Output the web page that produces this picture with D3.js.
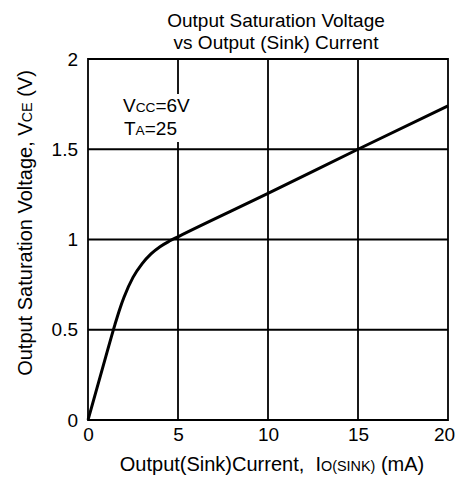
<!DOCTYPE html>
<html>
<head>
<meta charset="utf-8">
<script src="https://cdn.jsdelivr.net/npm/d3@7/dist/d3.min.js"></script>
<style>
  html, body { margin: 0; padding: 0; background: #fff; }
  text { font-family: "Liberation Sans", Arial, sans-serif; fill: #000; }
</style>
</head>
<body>
<svg id="chart" width="457" height="481"></svg>
<script>
// Output saturation voltage vs sink current
const sinkCurrent = [0, 1, 1.5, 1.8, 2, 2.5, 3, 3.5, 4, 4.5, 5, 10, 15, 20];                     // mA
const satVoltage  = [0, 0.355, 0.53, 0.625, 0.68, 0.79, 0.865, 0.92, 0.96, 0.99, 1.015, 1.255, 1.5, 1.74]; // V
const xTicks = [0, 5, 10, 15, 20];
const yTicks = [0, 0.5, 1, 1.5, 2];
const titleLines = ["Output Saturation Voltage", "vs Output (Sink) Current"];

const svg = d3.select("#chart");
const fs = 19;
const fsAxis = 20;
const sub = 0.72;

const x = d3.scaleLinear().domain([0, 20]).range([88, 448]);
const y = d3.scaleLinear().domain([0, 2]).range([420, 59]);

// grid lines and frame
const grid = svg.append("g").attr("stroke", "#000").attr("stroke-width", 1.8);
grid.selectAll("line.v").data(xTicks).join("line")
  .attr("x1", d => x(d)).attr("x2", d => x(d))
  .attr("y1", y(0) + 0.9).attr("y2", y(2) - 0.9);
grid.selectAll("line.h").data(yTicks).join("line")
  .attr("x1", x(0)).attr("x2", x(20))
  .attr("y1", d => y(d)).attr("y2", d => y(d));

// condition annotation on a white backing box
svg.append("rect").attr("x", 112).attr("y", 94).attr("width", 86).attr("height", 48).attr("fill", "#fff");
const a1 = svg.append("text").attr("x", 123).attr("y", 112).attr("font-size", fs);
a1.append("tspan").text("V");
a1.append("tspan").attr("font-size", fs * sub).text("CC");
a1.append("tspan").text("=6V");
const a2 = svg.append("text").attr("x", 124).attr("y", 135).attr("font-size", fs);
a2.append("tspan").text("T");
a2.append("tspan").attr("font-size", fs * sub).text("A");
a2.append("tspan").text("=25");

// characteristic curve
const line = d3.line()
  .x((d, i) => x(sinkCurrent[i]))
  .y(d => y(d))
  .curve(d3.curveMonotoneX);
svg.append("path").datum(satVoltage)
  .attr("d", line)
  .attr("fill", "none").attr("stroke", "#000").attr("stroke-width", 3)
  .attr("stroke-linejoin", "round");

// axes (labels only)
const xAxis = d3.axisBottom(x).tickValues(xTicks).tickSize(0).tickPadding(8).tickFormat(d3.format("d"));
const gx = svg.append("g").attr("transform", `translate(0,${y(0)})`).call(xAxis);
const yAxis = d3.axisLeft(y).tickValues(yTicks).tickSize(0).tickPadding(10).tickFormat(d => String(d));
const gy = svg.append("g").attr("transform", `translate(${x(0)},0)`).call(yAxis);
[gx, gy].forEach(g => {
  g.select(".domain").remove();
  g.selectAll("text").attr("font-size", fs).attr("font-family", null).attr("fill", "#000");
});
gx.selectAll("text").filter(d => d === 20).attr("dx", -4);

// titles
svg.append("text").attr("x", 276).attr("y", 27).attr("text-anchor", "middle").attr("font-size", fs).text(titleLines[0]);
svg.append("text").attr("x", 276).attr("y", 49).attr("text-anchor", "middle").attr("font-size", fs).text(titleLines[1]);

const xt = svg.append("text").attr("x", 272).attr("y", 471).attr("text-anchor", "middle").attr("font-size", fsAxis)
  .attr("xml:space", "preserve");
xt.append("tspan").text("Output(Sink)Current,  I");
xt.append("tspan").attr("font-size", fsAxis * sub).text("O(SINK)");
xt.append("tspan").text(" (mA)");

const yt = svg.append("text").attr("transform", "translate(32,223) rotate(-90)").attr("text-anchor", "middle").attr("font-size", fsAxis);
yt.append("tspan").text("Output Saturation Voltage, V");
yt.append("tspan").attr("font-size", fsAxis * sub).text("CE");
yt.append("tspan").text(" (V)");
</script>
</body>
</html>
